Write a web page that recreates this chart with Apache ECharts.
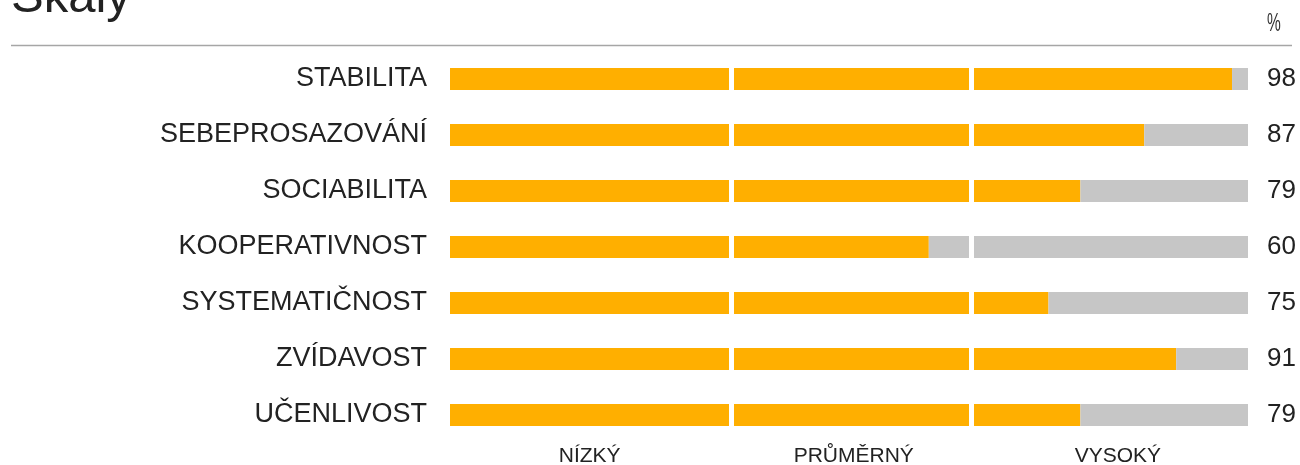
<!DOCTYPE html>
<html>
<head>
<meta charset="utf-8">
<script src="https://cdn.jsdelivr.net/npm/echarts@6/dist/echarts.min.js"></script>
<style>
html,body{margin:0;padding:0;background:#fff;}
#chart{width:1300px;height:465px;}
</style>
</head>
<body>
<div id="chart"></div>
<script>
const categories = ['STABILITA','SEBEPROSAZOVÁNÍ','SOCIABILITA','KOOPERATIVNOST','SYSTEMATIČNOST','ZVÍDAVOST','UČENLIVOST'];
const values = [98, 87, 79, 60, 75, 91, 79];
const levelLabels = ['NÍZKÝ','PRŮMĚRNÝ','VYSOKÝ'];
const levelBounds = [35.3, 65.3];
const titleText = 'Škály';
const unitText = '%';

const levelLabelAt = [17.5, 50.6, 83.7];
const remainder = values.map(v => 100 - v);
const FONT = '"Liberation Sans", Arial, sans-serif';

const chart = echarts.init(document.getElementById('chart'), null, {renderer:'canvas'});
chart.setOption({
  animation: false,
  backgroundColor: '#ffffff',
  title: {
    text: titleText, left: 11, top: -26, padding: 0,
    textStyle: {fontFamily: FONT, fontSize: 49, fontWeight: 'normal', color: '#222'}
  },
  graphic: [
    {type:'line', shape:{x1:11, y1:45.5, x2:1292, y2:45.5}, style:{stroke:'#a6a6a6', lineWidth:1.5}, silent:true},
    {type:'text', x:1267, y:12, scaleX:0.62, style:{text:unitText, fontFamily:FONT, fontSize:25, fill:'#333'}, silent:true}
  ],
  grid: {left: 450, right: 52, top: 51, height: 392, containLabel: false, outerBoundsMode: 'none'},
  xAxis: {
    type: 'value', min: 0, max: 100,
    splitLine: {show:false}, axisLine:{show:false}, axisTick:{show:false},
    axisLabel: {
      customValues: levelLabelAt,
      formatter: v => { const i = levelLabelAt.indexOf(v); return i >= 0 ? levelLabels[i] : ''; },
      fontFamily: FONT, fontSize: 21, color: '#222', margin: 3
    }
  },
  yAxis: {
    type: 'category', data: categories, inverse: true,
    axisLine:{show:false}, axisTick:{show:false},
    axisLabel: {fontFamily: FONT, fontSize: 27, color: '#222', margin: 23}
  },
  series: [
    {
      type:'bar', stack:'s', data: values, barWidth: 22,
      itemStyle:{color:'#FFAF00'}, silent:true
    },
    {
      type:'bar', stack:'s', data: remainder, barWidth: 22,
      itemStyle:{color:'#C6C6C6'}, silent:true,
      label: {
        show:true, position:'right', distance: 19,
        formatter: p => String(values[p.dataIndex]),
        fontFamily: FONT, fontSize: 26, color: '#222'
      },
      markLine: {
        silent:true, symbol:'none', animation:false,
        label:{show:false},
        lineStyle:{color:'#ffffff', width:5, type:'solid'},
        data: levelBounds.map(b => ({xAxis: b}))
      }
    }
  ]
});
</script>
</body>
</html>
